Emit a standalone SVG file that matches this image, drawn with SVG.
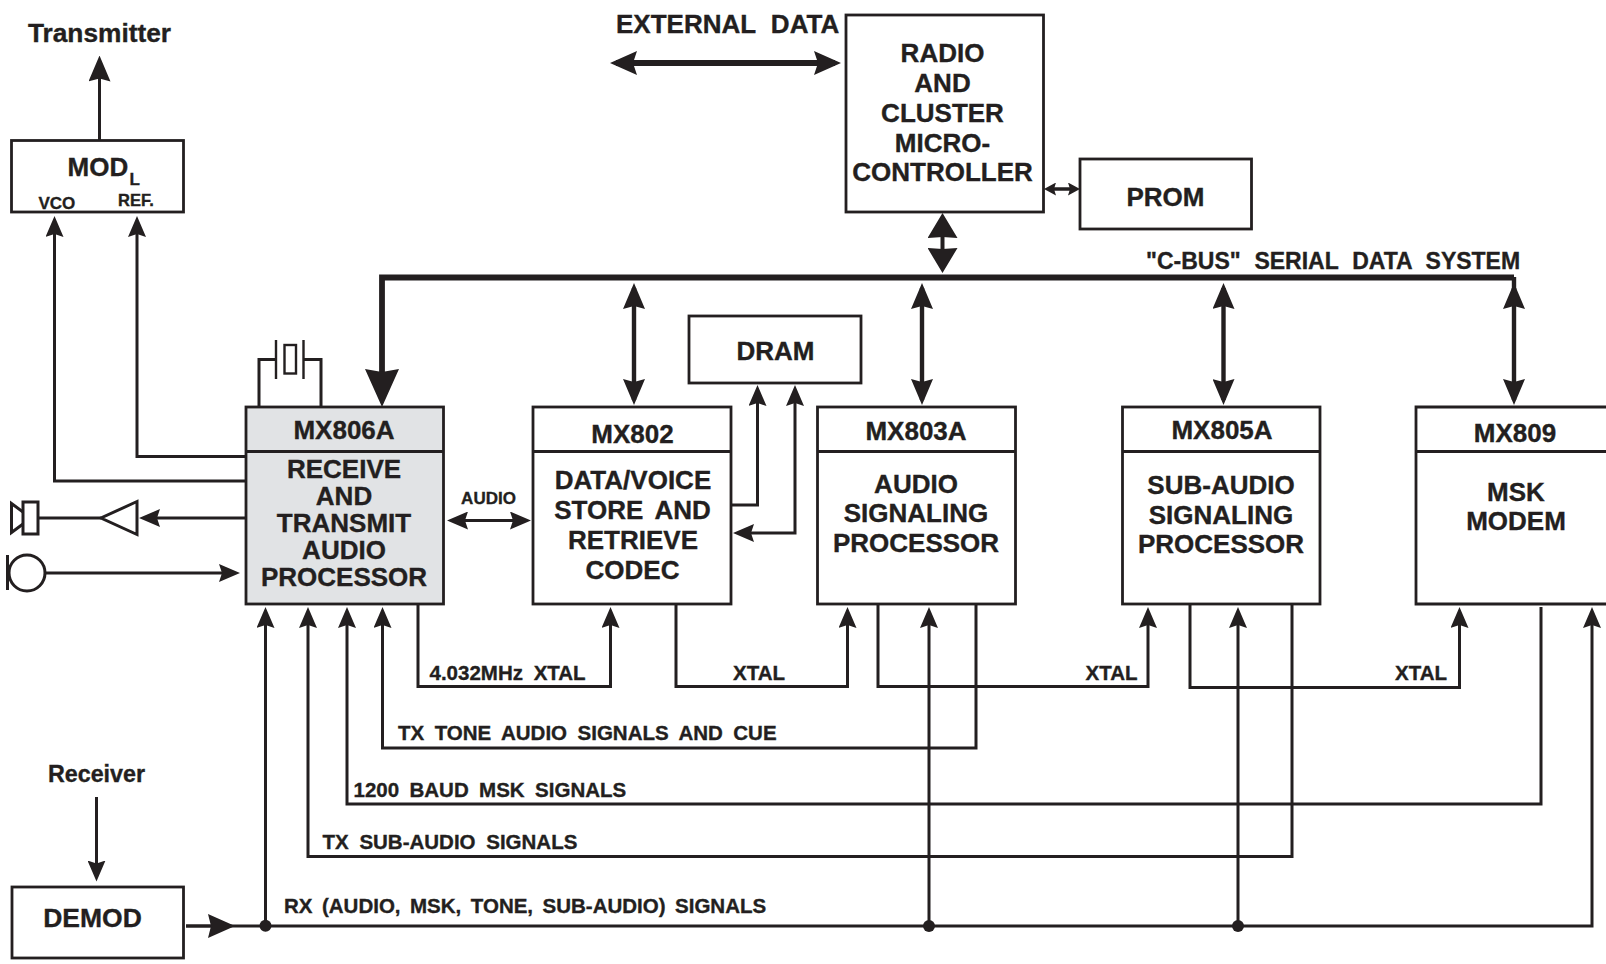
<svg xmlns="http://www.w3.org/2000/svg" width="1606" height="964" viewBox="0 0 1606 964">
<style>
text{font-family:"Liberation Sans",Arial,sans-serif;font-weight:bold;fill:#231f20;stroke:#231f20;stroke-width:.35;font-size:26px;text-anchor:middle}
.s{text-anchor:start;font-size:20.5px;word-spacing:5px}
.box{fill:#fff;stroke:#231f20;stroke-width:2.8}
.g{fill:#e1e3e5}
.l{fill:none;stroke:#231f20;stroke-width:3;stroke-linejoin:miter}
.t{stroke-width:4.4}
.h{fill:#231f20}
.a{marker-end:url(#a)}
.b{marker-start:url(#m);marker-end:url(#m)}
</style>
<defs>
<marker id="a" markerUnits="userSpaceOnUse" viewBox="0 0 21 18" refX="16" refY="9" markerWidth="21" markerHeight="18" orient="auto-start-reverse"><path class="h" d="M0,0 L21,9 L0,18 L3,9Z"/></marker>
<marker id="m" markerUnits="userSpaceOnUse" viewBox="0 0 26 22" refX="21" refY="11" markerWidth="26" markerHeight="22" orient="auto-start-reverse"><path class="h" d="M0,0 L26,11 L0,22 L3,11Z"/></marker>
<marker id="x" markerUnits="userSpaceOnUse" viewBox="0 0 27 24" refX="21" refY="12" markerWidth="27" markerHeight="24" orient="auto-start-reverse"><path class="h" d="M0,0 L27,12 L0,24 L4,12Z"/></marker>
<marker id="p" markerUnits="userSpaceOnUse" viewBox="0 0 12 13" refX="8" refY="6.5" markerWidth="12" markerHeight="13" orient="auto-start-reverse"><path class="h" d="M0,0 L12,6.5 L0,13 L2,6.5Z"/></marker>
<marker id="c" markerUnits="userSpaceOnUse" viewBox="0 0 25 30" refX="20" refY="15" markerWidth="25" markerHeight="30" orient="auto-start-reverse"><path class="h" d="M0,0 L25,15 L0,30 L1,15Z"/></marker>
<marker id="B" markerUnits="userSpaceOnUse" viewBox="0 0 38 34" refX="30" refY="17" markerWidth="38" markerHeight="34" orient="auto-start-reverse"><path class="h" d="M0,0 L38,17 L0,34 L3,17Z"/></marker>
<marker id="d" markerUnits="userSpaceOnUse" viewBox="0 0 27 24" refX="20" refY="12" markerWidth="27" markerHeight="24" orient="auto-start-reverse"><path class="h" d="M0,0 L27,12 L0,24 L3,12Z"/></marker>
</defs>
<g id="connectors">
<path class="l" d="M99.5,142 V60.5" style="marker-end:url(#m)"/>
<path class="l a" d="M245,481 H54.5 V221"/>
<path class="l a" d="M245,456.5 H137 V221"/>
<path class="l a" d="M245,518 H144"/>
<path class="l" d="M101,518 H38"/>
<path class="l a" d="M45,573 H235"/>
<path class="l a" d="M526,520.5 H452" style="marker-start:url(#a)"/>
<path class="l" d="M259,407 V359.5 H276 M303.5,359.5 H321 V407"/>
<path class="l" style="stroke-width:5.8;marker-end:url(#B)" d="M1514,277.5 H382 V399"/>
<path class="l" style="stroke-width:5.8;marker-start:url(#x);marker-end:url(#x)" d="M616,63 H835"/>
<path class="l" style="stroke-width:3.5;marker-start:url(#p);marker-end:url(#p)" d="M1048,189 H1076"/>
<path class="l" style="stroke-width:4;marker-start:url(#c);marker-end:url(#c)" d="M942.5,218 V268"/>
<path class="l t b" d="M634,288 V400"/>
<path class="l t b" d="M922,288 V400"/>
<path class="l t b" d="M1223.5,288 V400"/>
<path class="l t b" d="M1514,288 V400"/>
<path class="l t" d="M1514,277 V290"/>
<path class="l a" d="M731,505 H757.5 V390"/>
<path class="l a" style="marker-start:url(#a)" d="M795,390 V533 H738"/>
<path class="l a" d="M418,604 V686.5 H610.5 V612"/>
<path class="l a" d="M676,604 V686.5 H847.5 V612"/>
<path class="l a" d="M878,604 V686.5 H1148 V612"/>
<path class="l a" d="M1190,604 V687.5 H1459.5 V612"/>
<path class="l a" d="M976,604 V748 H382.5 V612"/>
<path class="l a" d="M1541,607 V804 H347 V612"/>
<path class="l a" d="M1292,604 V856.5 H308 V612"/>
<path class="l a" d="M96.5,797 V876.5"/>
<path class="l" d="M186,926 H228" style="stroke-width:3.6;marker-end:url(#d)"/>
<path class="l" d="M230,926 H1592 V612" style="marker-end:url(#a)"/>
<path class="l a" d="M265.5,926 V612"/>
<path class="l a" d="M929,926 V612"/>
<path class="l a" d="M1238,926 V612"/>
<ellipse class="h" cx="265.5" cy="925.7" rx="6" ry="6"/>
<ellipse class="h" cx="929" cy="926" rx="6" ry="6"/>
<ellipse class="h" cx="1238" cy="926" rx="6" ry="6"/>
</g>
<g id="transmitter-label"><text x="99.5" y="42" style="font-size:26.3px">Transmitter</text></g>
<g id="modl"><rect class="box" x="11.5" y="140.5" width="172" height="71.5"/>
<text x="67.5" y="176" style="text-anchor:start">MOD</text><text x="129.5" y="184.5" style="text-anchor:start;font-size:17px">L</text>
<text x="38.5" y="208.5" style="text-anchor:start;font-size:17px">VCO</text><text x="118" y="206" style="text-anchor:start;font-size:16.5px">REF.</text></g>
<g id="external-data-label"><text x="616" y="32.5" style="text-anchor:start;word-spacing:8px">EXTERNAL DATA</text></g>
<g id="microcontroller"><rect class="box" x="846" y="15" width="197.5" height="197"/>
<text x="942.5" y="62">RADIO</text><text x="942.5" y="92">AND</text><text x="942.5" y="122">CLUSTER</text><text x="942.5" y="152">MICRO-</text><text x="942.5" y="181">CONTROLLER</text></g>
<g id="prom"><rect class="box" x="1080" y="159" width="171.5" height="70"/><text x="1165.5" y="206">PROM</text></g>
<g id="cbus-label"><text class="s" x="1146" y="268.5" style="font-size:23px;word-spacing:7.4px">"C-BUS" SERIAL DATA SYSTEM</text></g>
<g id="dram"><rect class="box" x="689" y="316" width="172" height="67"/><text x="775.5" y="360">DRAM</text></g>
<g id="crystal"><path class="l" style="stroke-width:2.4" d="M276,340 V379 M303.5,340 V379"/><rect class="l" style="stroke-width:2.4" x="284.5" y="345" width="11.5" height="28.5"/></g>
<g id="speaker"><rect class="l" x="23" y="502" width="15" height="32"/><path class="l" d="M23,512 L11.5,503.5 V532.5 L23,524"/></g>
<g id="amplifier"><path class="l" style="fill:#fff" d="M137,501.5 L101,518 L137,534.5Z"/></g>
<g id="microphone"><ellipse class="l" cx="27" cy="573" rx="18" ry="18"/><path class="l" d="M7.5,555 V590"/></g>
<g id="mx806a"><rect class="box g" x="246" y="407" width="197.5" height="197"/><path class="l" d="M246,451.5 H443.5"/>
<text x="344" y="439">MX806A</text><g style="font-size:26.5px"><text x="344" y="478">RECEIVE</text><text x="344" y="505">AND</text><text x="344" y="532">TRANSMIT</text><text x="344" y="558.5">AUDIO</text><text x="344" y="585.5">PROCESSOR</text></g></g>
<g id="audio-label"><text x="488.5" y="503.5" style="font-size:17px">AUDIO</text></g>
<g id="mx802"><rect class="box" x="533" y="407" width="198" height="197"/><path class="l" d="M533,451.5 H731"/>
<text x="632.5" y="442.5">MX802</text><text x="633" y="489">DATA/VOICE</text><text x="632.5" y="519" style="word-spacing:5px">STORE AND</text><text x="633" y="549">RETRIEVE</text><text x="632.5" y="578.5">CODEC</text></g>
<g id="mx803a"><rect class="box" x="817.5" y="407" width="198" height="197"/><path class="l" d="M817.5,451.5 H1015.5"/>
<text x="916" y="439.5">MX803A</text><text x="916" y="492.5">AUDIO</text><text x="916" y="522">SIGNALING</text><text x="916" y="552">PROCESSOR</text></g>
<g id="mx805a"><rect class="box" x="1122.5" y="407" width="197.5" height="197"/><path class="l" d="M1122.5,451.5 H1320"/>
<text x="1222" y="439">MX805A</text><text x="1221" y="494">SUB-AUDIO</text><text x="1221" y="524">SIGNALING</text><text x="1221" y="553">PROCESSOR</text></g>
<g id="mx809"><path class="box" d="M1610,407 H1416 V604 H1610"/><path class="l" d="M1416,451.5 H1606"/>
<text x="1515" y="442">MX809</text><text x="1516" y="500.5">MSK</text><text x="1516" y="530">MODEM</text></g>
<g id="signal-labels">
<text class="s" x="429.5" y="679.5">4.032MHz XTAL</text>
<text class="s" x="733" y="679.5">XTAL</text><text class="s" x="1085.5" y="679.5">XTAL</text><text class="s" x="1395" y="679.5">XTAL</text>
<text class="s" x="398" y="740" style="word-spacing:4.8px">TX TONE AUDIO SIGNALS AND CUE</text>
<text class="s" x="353.5" y="797" style="word-spacing:4.7px">1200 BAUD MSK SIGNALS</text>
<text class="s" x="322.5" y="849">TX SUB-AUDIO SIGNALS</text>
<text class="s" x="284" y="913" style="word-spacing:3.8px">RX (AUDIO, MSK, TONE, SUB-AUDIO) SIGNALS</text>
</g>
<g id="receiver-label"><text x="96.5" y="781.5" style="font-size:23.3px">Receiver</text></g>
<g id="demod"><rect class="box" x="12" y="887" width="171.5" height="71"/><text x="92.5" y="926.5" style="font-size:26.5px">DEMOD</text></g>
</svg>
